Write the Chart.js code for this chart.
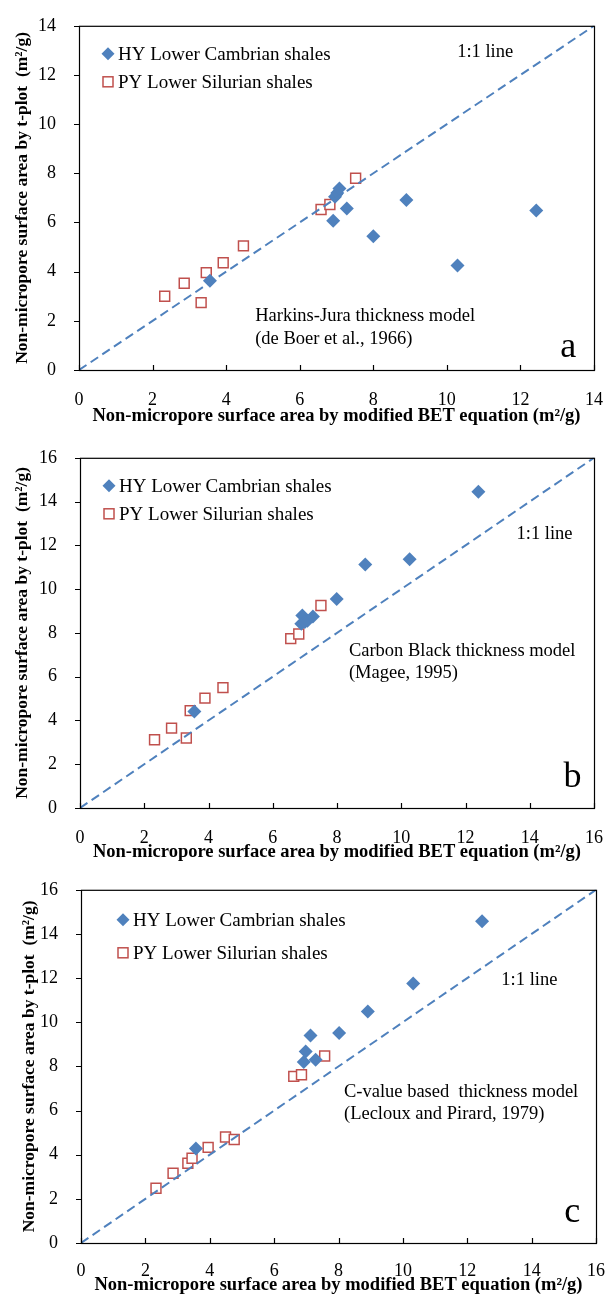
<!DOCTYPE html>
<html>
<head>
<meta charset="utf-8">
<script src="https://cdn.jsdelivr.net/npm/chart.js@4/dist/chart.umd.min.js"></script>
<style>
  body { margin: 0; background: #fff; }
  .panel { position: absolute; left: 0; width: 614px; }
</style>
</head>
<body>
<div class="panel" style="top:0;height:432px"><canvas id="chartA"></canvas></div>
<div class="panel" style="top:432px;height:432px"><canvas id="chartB"></canvas></div>
<div class="panel" style="top:864px;height:434px"><canvas id="chartC"></canvas></div>
<script>
// (a) Harkins-Jura thickness model
const hyBET_a   = [3.56, 6.91, 6.96, 7.02, 7.08, 7.28, 8.0, 8.9, 10.29, 12.43];
const hyTplot_a = [3.63, 6.07, 7.05, 7.2, 7.38, 6.57, 5.44, 6.91, 4.25, 6.49];
const pyBET_a   = [2.33, 2.86, 3.32, 3.46, 3.92, 4.47, 6.58, 6.82, 7.52];
const pyTplot_a = [3.0, 3.53, 2.74, 3.96, 4.36, 5.05, 6.53, 6.73, 7.8];
const ticks_a   = [0, 2, 4, 6, 8, 10, 12, 14];
const line_a    = [0, 14];

// (b) Carbon Black thickness model
const hyBET_b   = [3.56, 6.89, 6.92, 7.0, 7.08, 7.25, 7.99, 8.88, 10.26, 12.4];
const hyTplot_b = [4.41, 8.42, 8.79, 8.5, 8.56, 8.75, 9.55, 11.12, 11.36, 14.45];
const pyBET_b   = [2.32, 2.85, 3.31, 3.43, 3.89, 4.45, 6.56, 6.81, 7.5];
const pyTplot_b = [3.12, 3.65, 3.2, 4.45, 5.02, 5.5, 7.74, 7.95, 9.25];
const ticks_b   = [0, 2, 4, 6, 8, 10, 12, 14, 16];
const line_b    = [0, 16];

// (c) C-value based thickness model
const hyBET_c   = [3.57, 6.92, 6.98, 7.13, 7.29, 8.02, 8.91, 10.32, 12.46];
const hyTplot_c = [4.28, 8.2, 8.68, 9.4, 8.3, 9.51, 10.49, 11.76, 14.57];
const pyBET_c   = [2.33, 2.86, 3.32, 3.45, 3.95, 4.49, 4.76, 6.61, 6.85, 7.57];
const pyTplot_c = [2.48, 3.16, 3.61, 3.84, 4.33, 4.8, 4.69, 7.55, 7.62, 8.47];
const ticks_c   = [0, 2, 4, 6, 8, 10, 12, 14, 16];
const line_c    = [0, 16];

const serif = '"Liberation Serif", "Times New Roman", serif';
const blue = '#4f81bd';
const red = '#c0504d';
const xTitle = 'Non-micropore surface area by modified BET equation (m\u00B2/g)';
const yTitle = 'Non-micropore surface area by t-plot  (m\u00B2/g)';

const toPoints = (xs, ys) => xs.map((x, i) => ({ x: x, y: ys[i] }));

// frame, tick marks, legend keys and text notes
const panelDecor = {
  id: 'panelDecor',
  afterDatasetsDraw(chart, args, opts) {
    const ctx = chart.ctx;
    const area = chart.chartArea;
    const sx = chart.scales.x, sy = chart.scales.y;
    ctx.save();
    ctx.strokeStyle = '#000';
    ctx.lineWidth = 1.2;
    ctx.strokeRect(area.left + 0.5, area.top + 0.5, area.right - area.left, area.bottom - area.top);
    ctx.beginPath();
    sx.ticks.forEach(t => {
      const px = Math.round(sx.getPixelForValue(t.value)) + 0.5;
      ctx.moveTo(px, area.bottom);
      ctx.lineTo(px, area.bottom - 5);
    });
    sy.ticks.forEach(t => {
      const py = Math.round(sy.getPixelForValue(t.value)) + 0.5;
      ctx.moveTo(area.left - 5, py);
      ctx.lineTo(area.left, py);
    });
    ctx.stroke();

    // legend
    const lg = opts.legend;
    const kx = area.left + lg.dx;
    let ky = area.top + lg.dy;
    ctx.font = '19px ' + serif;
    ctx.textBaseline = 'middle';
    ctx.textAlign = 'left';
    // diamond
    ctx.beginPath();
    ctx.moveTo(kx, ky - 6.5);
    ctx.lineTo(kx + 6.5, ky);
    ctx.lineTo(kx, ky + 6.5);
    ctx.lineTo(kx - 6.5, ky);
    ctx.closePath();
    ctx.fillStyle = blue;
    ctx.fill();
    ctx.fillStyle = '#000';
    ctx.fillText('HY Lower Cambrian shales', kx + lg.gap, ky + 1);
    ky += lg.step;
    ctx.fillStyle = '#fff';
    ctx.strokeStyle = red;
    ctx.lineWidth = 1.5;
    ctx.fillRect(kx - 5, ky - 5, 10, 10);
    ctx.strokeRect(kx - 5, ky - 5, 10, 10);
    ctx.fillStyle = '#000';
    ctx.fillText('PY Lower Silurian shales', kx + lg.gap, ky + 1);

    // notes placed in data units
    opts.notes.forEach(n => {
      ctx.font = n.font;
      ctx.textAlign = n.align || 'left';
      ctx.fillText(n.text, sx.getPixelForValue(n.x), sy.getPixelForValue(n.y));
    });
    ctx.restore();
  }
};

function makePanel(canvasId, p) {
  return new Chart(document.getElementById(canvasId), {
    type: 'scatter',
    data: {
      datasets: [
        {
          label: '1:1 line',
          type: 'line',
          data: toPoints(p.line, p.line),
          borderColor: blue,
          borderWidth: 2,
          borderDash: [9, 5],
          pointRadius: 0,
          fill: false
        },
        {
          label: 'HY Lower Cambrian shales',
          data: toPoints(p.hyX, p.hyY),
          pointStyle: 'rectRot',
          pointRadius: 7,
          backgroundColor: blue,
          borderColor: blue,
          borderWidth: 0
        },
        {
          label: 'PY Lower Silurian shales',
          data: toPoints(p.pyX, p.pyY),
          pointStyle: 'rect',
          pointRadius: 7,
          backgroundColor: '#fff',
          borderColor: red,
          borderWidth: 1.5
        }
      ]
    },
    options: {
      responsive: true,
      maintainAspectRatio: false,
      animation: false,
      layout: { padding: { top: p.padTop, right: p.padRight, left: 0, bottom: 0 } },
      scales: {
        x: {
          type: 'linear',
          min: 0,
          max: p.line[1],
          afterBuildTicks: s => { s.ticks = p.ticks.map(v => ({ value: v })); },
          afterFit: s => { s.height = p.xAxisH; },
          grid: { display: false },
          border: { display: false },
          ticks: { color: '#000', padding: p.xTickPad, maxRotation: 0, font: { family: serif, size: 18 } },
          title: {
            display: true,
            text: xTitle,
            color: '#000',
            padding: { top: 0, bottom: p.xTitlePad },
            font: { family: serif, size: 18.5, weight: 'bold' }
          }
        },
        y: {
          type: 'linear',
          min: 0,
          max: p.line[1],
          afterBuildTicks: s => { s.ticks = p.ticks.map(v => ({ value: v })); },
          afterFit: s => { s.width = p.yAxisW; },
          grid: { display: false },
          border: { display: false },
          ticks: { color: '#000', padding: 15, font: { family: serif, size: 18 } },
          title: {
            display: true,
            text: yTitle,
            color: '#000',
            padding: { top: p.yTitlePad, bottom: 0 },
            font: { family: serif, size: 17.5, weight: 'bold' }
          }
        }
      },
      plugins: {
        legend: { display: false },
        tooltip: { enabled: false },
        panelDecor: { legend: p.legend, notes: p.notes }
      }
    },
    plugins: [panelDecor]
  });
}

const noteFont = '18.5px ' + serif;
const letterFont = '36px ' + serif;

makePanel('chartA', {
  hyX: hyBET_a, hyY: hyTplot_a, pyX: pyBET_a, pyY: pyTplot_a,
  ticks: ticks_a, line: line_a,
  padTop: 17, padRight: 12, yAxisW: 79, xAxisH: 62,
  xTickPad: 11, xTitlePad: 5, yTitlePad: 11.5,
  legend: { dx: 29, dy: 28, step: 28, gap: 10 },
  notes: [
    { text: '1:1 line', x: 10.28, y: 12.93, font: noteFont },
    { text: 'Harkins-Jura thickness model', x: 4.79, y: 2.18, font: noteFont },
    { text: '(de Boer et al., 1966)', x: 4.79, y: 1.27, font: noteFont },
    { text: 'a', x: 13.3, y: 0.9, font: letterFont, align: 'center' }
  ]
});

makePanel('chartB', {
  hyX: hyBET_b, hyY: hyTplot_b, pyX: pyBET_b, pyY: pyTplot_b,
  ticks: ticks_b, line: line_b,
  padTop: 23, padRight: 10, yAxisW: 80, xAxisH: 56,
  xTickPad: 11, xTitlePad: 1, yTitlePad: 11.5,
  legend: { dx: 29, dy: 28, step: 28, gap: 10 },
  notes: [
    { text: '1:1 line', x: 13.59, y: 12.51, font: noteFont },
    { text: 'Carbon Black thickness model', x: 8.37, y: 7.16, font: noteFont },
    { text: '(Magee, 1995)', x: 8.37, y: 6.16, font: noteFont },
    { text: 'b', x: 15.33, y: 1.4, font: letterFont, align: 'center' }
  ]
});

makePanel('chartC', {
  hyX: hyBET_c, hyY: hyTplot_c, pyX: pyBET_c, pyY: pyTplot_c,
  ticks: ticks_c, line: line_c,
  padTop: 25, padRight: 10, yAxisW: 81, xAxisH: 55,
  xTickPad: 9, xTitlePad: 2, yTitlePad: 18.5,
  legend: { dx: 42, dy: 30, step: 33, gap: 10 },
  notes: [
    { text: '1:1 line', x: 13.06, y: 11.93, font: noteFont },
    { text: 'C-value based  thickness model', x: 8.17, y: 6.82, font: noteFont },
    { text: '(Lecloux and Pirard, 1979)', x: 8.17, y: 5.83, font: noteFont },
    { text: 'c', x: 15.26, y: 1.4, font: letterFont, align: 'center' }
  ]
});
</script>
</body>
</html>
